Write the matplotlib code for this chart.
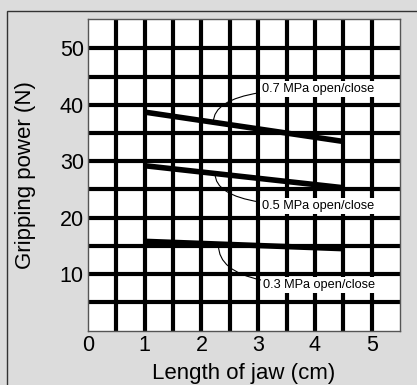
import matplotlib.pyplot as plt
import numpy as np
from matplotlib.patches import Rectangle

# jaw length (cm) at the ends of each line
jaw_len = [1.0, 4.5]
p07 = [38.7, 33.5]
p05 = [29.2, 25.3]
p03 = [15.8, 14.5]

labels = ['0.7 MPa open/close', '0.5 MPa open/close', '0.3 MPa open/close']
# point on the line, text position (data coords)
label_xy = [(2.21, 36.9), (2.24, 27.8), (2.3, 15.1)]
text_xy = [(3.06, 42.8), (3.06, 22.1), (3.08, 8.1)]

plt.rcParams['font.family'] = ['Liberation Sans', 'DejaVu Sans']

fig = plt.figure(figsize=(4.17, 3.85), dpi=100)
fig.patch.set_facecolor('#dcdcdc')
W, H = 417, 385
fig.add_artist(Rectangle((7 / W, -0.1), 1.2, 1 - 11 / H + 0.1, transform=fig.transFigure,
                         fill=False, edgecolor='#333333', linewidth=1.0))

ax = fig.add_axes([88 / W, 1 - 330.5 / H, (400 - 88) / W, (330.5 - 19) / H])
ax.set_facecolor('white')
ax.set_xlim(0, 5.5)
ax.set_ylim(0, 55.2)

for xv in np.arange(0.5, 5.5, 0.5):
    ax.axvline(xv, color='black', lw=3.0, zorder=1)
for yv in np.arange(5, 55, 5):
    ax.axhline(yv, color='black', lw=3.0, zorder=1)

for ys in [p07, p05, p03]:
    ax.plot(jaw_len, ys, color='black', lw=4.0, solid_capstyle='butt', zorder=3)

for lab, (px, py), (tx, ty) in zip(labels, label_xy, text_xy):
    ax.annotate(lab, xy=(px, py), xytext=(tx, ty), fontsize=9.2,
                va='center', ha='left',
                bbox=dict(boxstyle='square,pad=0.15', fc='white', ec='none'),
                arrowprops=dict(arrowstyle='-', color='black', lw=0.8,
                                connectionstyle='angle3,angleA=0,angleB=90',
                                shrinkA=0, shrinkB=0),
                zorder=4)

ax.set_xticks([0, 1, 2, 3, 4, 5])
ax.set_yticks([10, 20, 30, 40, 50])
ax.tick_params(labelsize=15.5, length=0, pad=3)
for s in ax.spines.values():
    s.set_color('#555555')
    s.set_linewidth(1.0)

ax.set_xlabel('Length of jaw (cm)', fontsize=16, labelpad=5)
ax.set_ylabel('Gripping power (N)', fontsize=16, labelpad=17)

fig.savefig('out.png', dpi=100, facecolor=fig.get_facecolor())
